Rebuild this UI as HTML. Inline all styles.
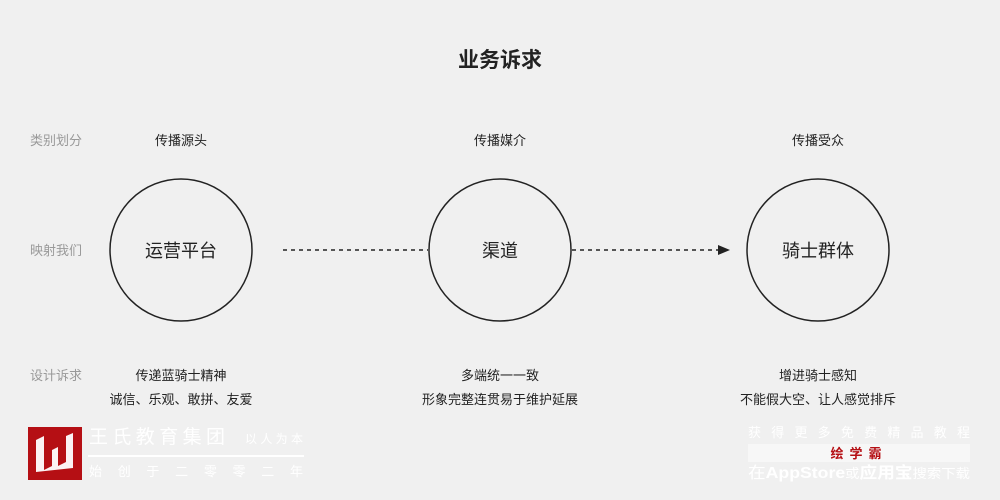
<!DOCTYPE html>
<html><head><meta charset="utf-8"><style>
html,body{margin:0;padding:0;background:#f0f0f0;}
svg{display:block;font-family:"Liberation Sans","Noto Sans CJK SC",sans-serif;}
</style></head><body>
<svg width="1000" height="500" viewBox="0 0 1000 500" xmlns="http://www.w3.org/2000/svg">
<rect width="1000" height="500" fill="#f0f0f0"/>
<text x="500" y="67" text-anchor="middle" font-size="21" font-weight="bold" fill="#222">业务诉求</text>
<g font-size="13" fill="#999">
<text x="30" y="145">类别划分</text>
<text x="30" y="255">映射我们</text>
<text x="30" y="380">设计诉求</text>
</g>
<g font-size="13" fill="#222" text-anchor="middle">
<text x="181" y="145">传播源头</text>
<text x="500" y="145">传播媒介</text>
<text x="818" y="145">传播受众</text>
<text x="181" y="380">传递蓝骑士精神</text>
<text x="181" y="404">诚信、乐观、敢拼、友爱</text>
<text x="500" y="380">多端统一一致</text>
<text x="500" y="404">形象完整连贯易于维护延展</text>
<text x="818" y="380">增进骑士感知</text>
<text x="818" y="404">不能假大空、让人感觉排斥</text>
</g>
<g fill="none" stroke="#222" stroke-width="1.5">
<circle cx="181" cy="250" r="71"/>
<circle cx="500" cy="250" r="71"/>
<circle cx="818" cy="250" r="71"/>
</g>
<g font-size="18" fill="#222" text-anchor="middle">
<text x="181" y="257">运营平台</text>
<text x="500" y="257">渠道</text>
<text x="818" y="257">骑士群体</text>
</g>
<g stroke="#222" stroke-width="1.5" stroke-dasharray="4,4">
<line x1="283" y1="250" x2="428" y2="250"/>
<line x1="572" y1="250" x2="718" y2="250"/>
</g>
<polygon points="718,245 730,250 718,255" fill="#222"/>
<rect x="28" y="427" width="54" height="53" fill="#b50f14"/>
<path d="M36 440 L44 436 L44 470 L52 466 L52 450 L58 447 L58 466 L66 462 L66 436 L73 433 L73 468 L36 472 Z" fill="#fff" opacity="0.95"/>
<g fill="#fff">
<text x="89" y="443" font-size="19" textLength="136" lengthAdjust="spacing">王氏教育集团</text>
<text x="245" y="443" font-size="12" textLength="58" lengthAdjust="spacing">以人为本</text>
<rect x="88" y="455" width="216" height="2"/>
<text x="89" y="476" font-size="13" textLength="214" lengthAdjust="spacing">始创于二零零二年</text>
<text x="748" y="437" font-size="13" textLength="222" lengthAdjust="spacing">获得更多免费精品教程</text>
<rect x="748" y="444" width="222" height="18" fill="#f7f7f7"/>
<text x="748" y="478" font-size="16" textLength="222" lengthAdjust="spacingAndGlyphs">在<tspan font-weight="bold">AppStore</tspan><tspan font-size="13">或</tspan><tspan font-weight="bold">应用宝</tspan><tspan font-size="13">搜索下载</tspan></text>
</g>
<text x="859" y="458" font-size="13" font-weight="bold" fill="#b50f14" text-anchor="middle" letter-spacing="6">绘学霸</text>
</svg>
</body></html>
